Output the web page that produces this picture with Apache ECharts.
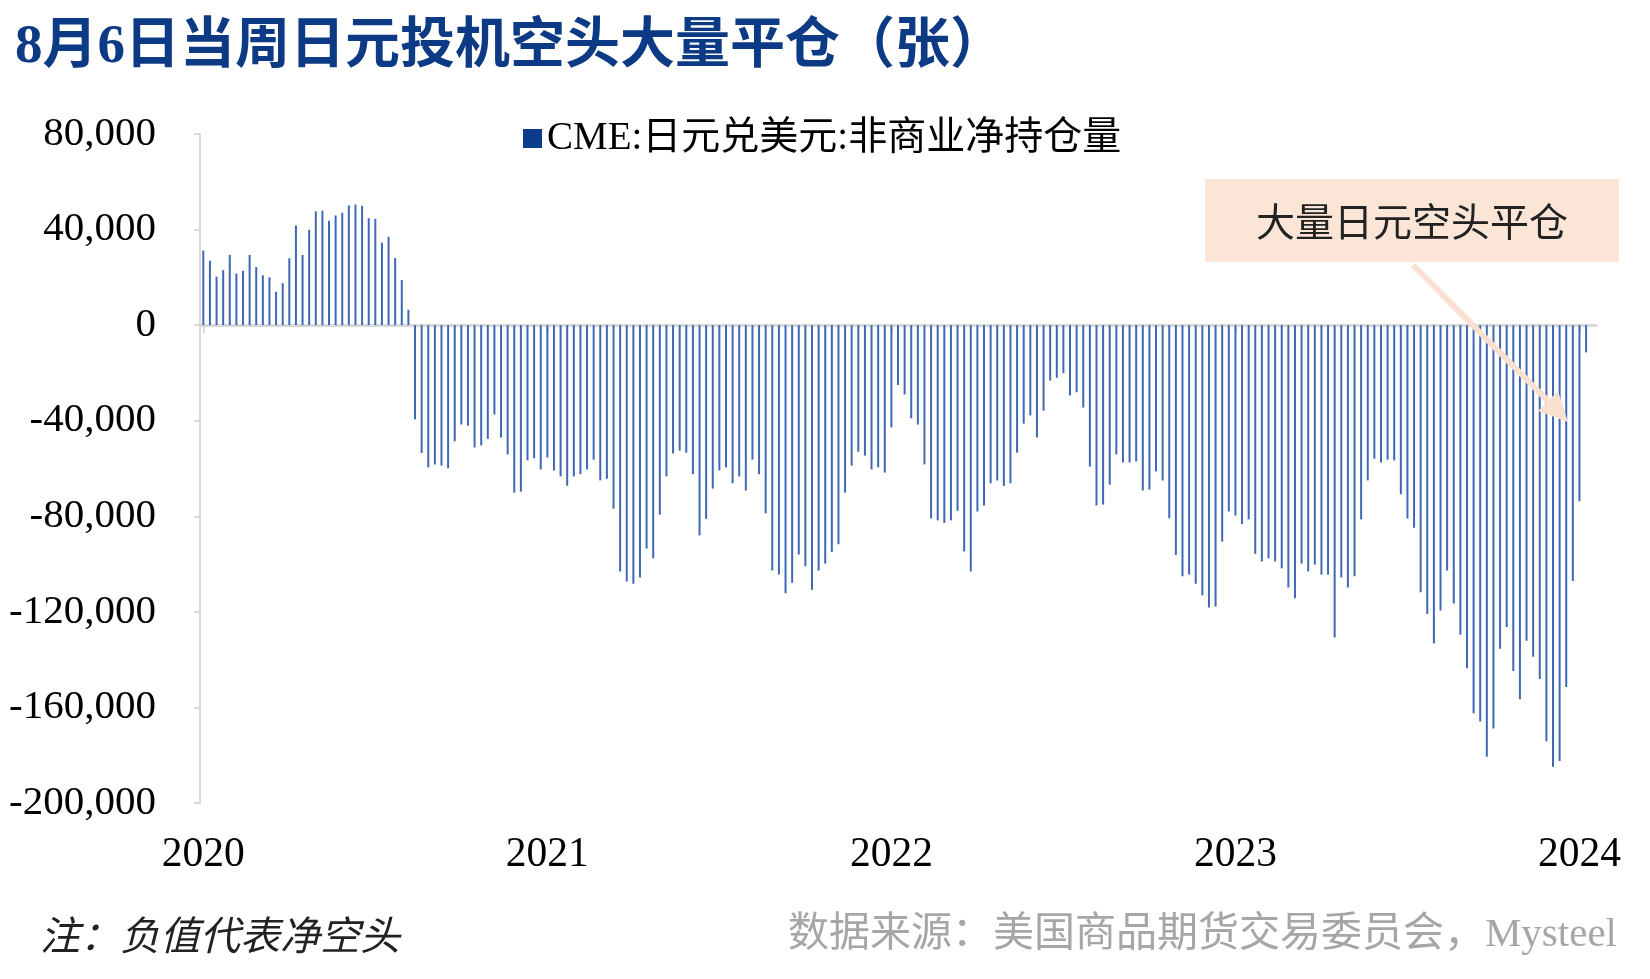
<!DOCTYPE html>
<html>
<head>
<meta charset="utf-8">
<script src="https://cdn.jsdelivr.net/npm/echarts@6/dist/echarts.min.js"></script>
<style>html,body{margin:0;padding:0;background:#fff;}#c{width:1650px;height:979px;}</style>
</head>
<body>
<div id="c"></div>
<script>
// ---- data ----
const titleText = '8月6日当周日元投机空头大量平仓（张）';
const seriesName = 'CME:日元兑美元:非商业净持仓量';
const noteText = '注：负值代表净空头';
const sourceText = '数据来源：美国商品期货交易委员会，Mysteel';
const annotationText = '大量日元空头平仓';
const firstWeek = '2020-08-04';
const weekCount = 210;
const yTicks = {min: -200000, max: 80000, interval: 40000};
const netPositions = [
  31200, 27000, 20300, 23000, 29400, 21600, 22700, 29400, 24300, 20900,
  20000, 14000, 17600, 28000, 41700, 29400, 39900, 47600, 47900, 43700,
  45900, 47000, 50100, 50500, 49900, 44800, 44500, 34500, 37000, 28100,
  18900, 6400, -39400, -53500, -59500,
  -58300, -58800, -59900, -48600, -41600, -42100, -51200, -50300, -47600, -37400,
  -47000, -54100, -70100, -69700, -56600, -55700, -60400, -55400, -60800, -63300,
  -67200, -63300, -62400, -60400, -56300, -65000, -64300, -76800, -103100, -107300,
  -108200, -105600, -93500, -97600, -79300, -63300,
  -53700, -52500, -53400, -62400, -88000, -81100, -68400, -60800, -59500, -66200,
  -63300, -69200, -56300, -62400, -78800, -102700, -104400, -112200, -107800, -96000,
  -100900, -110700, -102700, -99800, -94900, -91700, -70100, -58800, -53000, -54600,
  -60400, -59500, -61700, -42800, -25000, -29000,
  -39000, -41600, -58300, -80900, -81700, -82800, -81700, -77700, -94700, -103100,
  -78000, -75500, -66200, -65000, -67300, -66200, -53400, -41200, -37800, -47000,
  -35800, -23200, -22000, -20100, -29400, -28100, -34500, -59200, -75500, -75100,
  -66800, -54100, -57500, -57500, -57000,
  -69200, -68800, -61200, -65000, -80800, -96200, -105100, -104400, -108200, -113100,
  -118200, -117800, -90600, -78000, -79700, -83300, -81300, -95700, -98900, -97600,
  -98900, -101800, -109800, -114300, -99800, -103100, -100200, -104400, -104400, -130700,
  -105600, -109800, -105100, -81300, -65000, -55900,
  -57500, -56300, -56600, -70800, -80900, -84800, -111800, -120900, -133200, -119400,
  -102700, -116500, -129600, -143600, -162400, -165900, -180600, -168800, -135400, -126300,
  -144800, -156600, -132100, -138800, -148100, -174200, -184800, -182400, -151400, -107100,
  -73700, -11400
];

// weekly category labels (dates)
const weeks = [];
(function(){
  const d0 = new Date(firstWeek + 'T00:00:00Z');
  for (let i = 0; i < weekCount; i++) {
    const d = new Date(d0.getTime() + i * 7 * 86400000);
    weeks.push(d.toISOString().slice(0, 10));
  }
})();

const chart = echarts.init(document.getElementById('c'));
const serif = "'Liberation Serif','Noto Sans CJK SC',serif";
const cjk = "'Noto Sans CJK SC','Liberation Serif',sans-serif";
const gridLeft = 200, gridRight = 54, gridTop = 134, gridBottom = 176;

const option = {
  backgroundColor: '#fff',
  animation: false,
  title: {
    text: titleText,
    left: 10, top: 15,
    textStyle: {fontFamily: serif, fontWeight: 'bold', fontSize: 55, color: '#0C3A84'}
  },
  legend: {
    data: [{name: seriesName, itemStyle: {color: '#0B3C8C'}}],
    left: 518, top: 114,
    icon: 'rect', itemWidth: 19, itemHeight: 19,
    textStyle: {fontFamily: serif, fontSize: 39, color: '#000'}
  },
  grid: {left: gridLeft, right: gridRight, top: gridTop, bottom: gridBottom, containLabel: false},
  xAxis: [
    {
      type: 'category', data: weeks, max: weekCount, boundaryGap: true,
      axisLine: {onZero: true, lineStyle: {color: '#D9D9D9', width: 3}},
      axisTick: {show: true, alignWithLabel: true, interval: 51, length: 8, lineStyle: {color: '#D9D9D9', width: 2}},
      axisLabel: {show: false, interval: 51},
      splitLine: {show: false}
    },
    {
      type: 'category', data: weeks, max: weekCount, boundaryGap: true, position: 'bottom',
      axisLine: {show: false, onZero: false}, axisTick: {show: false},
      axisLabel: {
        show: true, interval: 51, margin: 31,
        fontFamily: serif, fontSize: 41.5, color: '#000',
        formatter: v => v.slice(0, 4)
      },
      splitLine: {show: false}
    }
  ],
  yAxis: {
    type: 'value', min: yTicks.min, max: yTicks.max, interval: yTicks.interval,
    axisLine: {show: true, lineStyle: {color: '#D9D9D9', width: 2}},
    axisTick: {show: true, length: 6, lineStyle: {color: '#D9D9D9', width: 2}},
    axisLabel: {
      margin: 44, fontFamily: serif, fontSize: 41, color: '#000',
      formatter: v => v.toLocaleString('en-US')
    },
    splitLine: {show: false}
  },
  series: [{
    name: seriesName, type: 'bar', xAxisIndex: 0,
    data: netPositions, barWidth: 2,
    itemStyle: {color: '#3F68B3'}
  }],
  graphic: [
    {type: 'rect', shape: {x: 1205, y: 179, width: 414, height: 83}, style: {fill: '#FAE5D7'}, z: 10},
    {type: 'text', x: 1412, y: 221, style: {text: annotationText, fontFamily: cjk, fontSize: 39, fill: '#222', align: 'center', verticalAlign: 'middle'}, z: 11},
    {type: 'line', shape: {x1: 1413, y1: 265, x2: 1549, y2: 402}, style: {stroke: '#FAE0D0', lineWidth: 6}, z: 10},
    {type: 'polygon', shape: {points: [[1568, 422], [1538, 411], [1558, 391]]}, style: {fill: '#FAE0D0'}, z: 10},
    {type: 'text', x: 40, y: 935, style: {text: noteText, fontFamily: cjk, fontStyle: 'italic', fontSize: 40, fill: '#222', verticalAlign: 'middle'}},
    {type: 'text', x: 1617, y: 935, style: {text: sourceText, fontFamily: serif, fontSize: 41, fill: '#A6A6A6', align: 'right', verticalAlign: 'middle'}}
  ]
};
chart.setOption(option);
</script>
</body>
</html>
